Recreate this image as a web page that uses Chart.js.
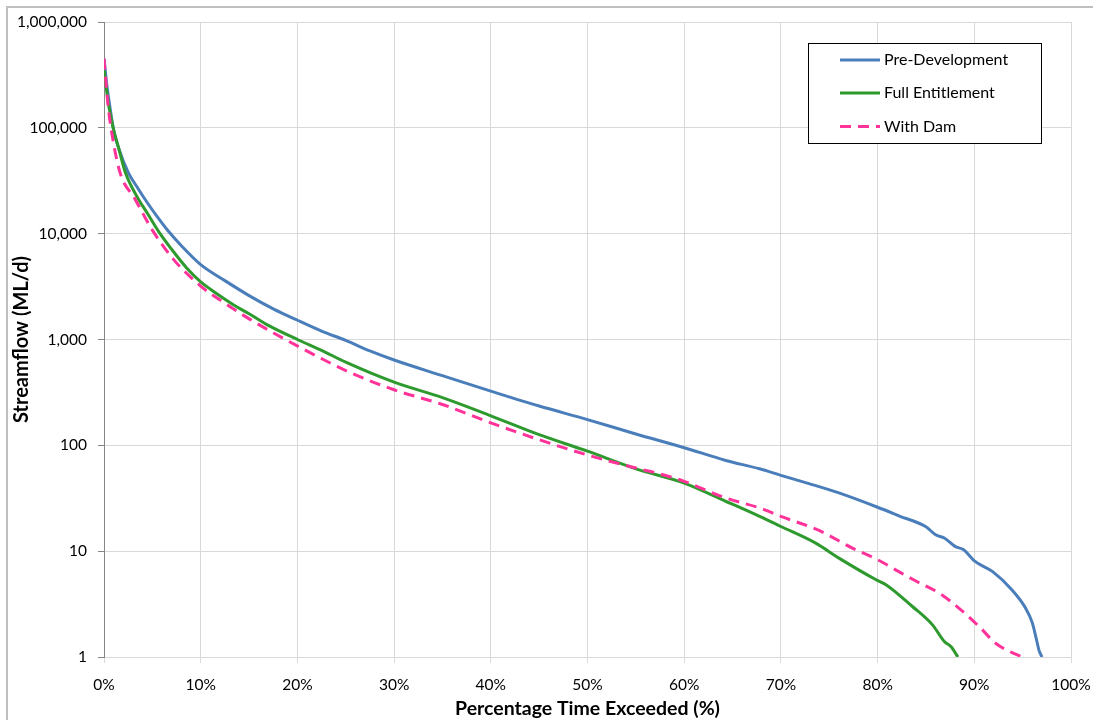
<!DOCTYPE html>
<html>
<head>
<meta charset="utf-8">
<script src="https://cdn.jsdelivr.net/npm/chart.js@4/dist/chart.umd.min.js"></script>
<style>
  html, body { margin: 0; padding: 0; background: #ffffff; }
  #wrap { width: 1093px; height: 720px; position: relative; }
</style>
</head>
<body>
<div id="wrap"><canvas id="c" width="1093" height="720"></canvas></div>
<script>
// ---- Data ----
const seriesLabels = ['Pre-Development', 'Full Entitlement', 'With Dam'];

const preDevX = [0, 0.3, 0.6, 1.0, 1.5, 2.5, 3.5, 4.5, 5.5, 6.6, 8, 10, 12.5, 15, 17.5, 20, 22.5, 25, 27.5, 30, 35, 40, 45, 50, 55, 60, 64.3, 67.8, 70, 72.9, 76, 80, 82.2, 85, 86, 86.9, 88, 88.9, 90, 91.9, 93.9, 95.3, 96.0, 96.4, 96.7, 97];
const preDevY = [450000, 250000, 160000, 95000, 65000, 38000, 26900, 19500, 14500, 10700, 7700, 5100, 3600, 2600, 1950, 1520, 1200, 980, 780, 640, 455, 325, 235, 175, 128, 95, 72, 60, 52, 43.5, 35.5, 26, 21.6, 17, 14.3, 13.3, 11.1, 10.3, 8.1, 6.4, 4.3, 2.9, 2.1, 1.5, 1.15, 1];

const fullEntX = [0, 0.5, 1.0, 1.5, 2.2, 3.55, 4.5, 5.8, 7, 8.5, 10, 11, 13.5, 15, 16.8, 20, 22.5, 25, 30, 35, 40, 45, 50, 55, 60, 64.3, 67.8, 70, 73.6, 76, 79.8, 80.9, 83.6, 85.7, 86.9, 87.6, 88.3];
const fullEntY = [350000, 160000, 95000, 65000, 38000, 21300, 15500, 10000, 7100, 4800, 3500, 2990, 2100, 1750, 1390, 1000, 790, 610, 395, 282, 190, 126, 88, 60, 44, 29.6, 21.3, 17.1, 11.9, 8.6, 5.4, 4.8, 3.0, 2.0, 1.4, 1.25, 1];

const withDamX = [0, 0.4, 0.72, 1.65, 3.2, 4.06, 5.0, 7.16, 10, 12.5, 15.1, 20.2, 25.4, 30, 35, 40, 45, 50, 55, 57.4, 60, 64.3, 67.8, 70, 74, 77.4, 80, 82.2, 84, 86.4, 88.4, 90.5, 92.2, 93.9, 95];
const withDamY = [450000, 170000, 100000, 38000, 21300, 15300, 10800, 5750, 3200, 2200, 1550, 850, 490, 335, 243, 163, 113, 81, 61, 54, 45.7, 31.8, 25.6, 21.3, 15.6, 10.7, 8.3, 6.4, 5.2, 4.0, 2.9, 1.94, 1.35, 1.1, 1];

const yTickValues = [1, 10, 100, 1000, 10000, 100000, 1000000];
const xTickValues = [0, 10, 20, 30, 40, 50, 60, 70, 80, 90, 100];

const xTitle = 'Percentage Time Exceeded (%)';
const yTitle = 'Streamflow (ML/d)';

const colors = ['#4A7EBB', '#2E9A2E', '#FF3399'];

function toPoints(xs, ys) { return xs.map((x, i) => ({ x: x, y: ys[i] })); }

const FONT = 'Lato, "Open Sans", "DejaVu Sans", sans-serif';

// Outer frame (top + left edges visible in reference)
const framePlugin = {
  id: 'frame',
  beforeDraw(chart) {
    const ctx = chart.ctx;
    ctx.save();
    ctx.fillStyle = '#ffffff';
    ctx.fillRect(0, 0, chart.width, chart.height);
    ctx.strokeStyle = '#bfbfbf';
    ctx.lineWidth = 2;
    ctx.beginPath();
    ctx.moveTo(7, chart.height);
    ctx.lineTo(7, 7);
    ctx.lineTo(chart.width, 7);
    ctx.stroke();
    ctx.restore();
  }
};

// Boxed legend inside the plot area
const boxLegendPlugin = {
  id: 'boxLegend',
  afterDraw(chart) {
    const ctx = chart.ctx;
    const bx = 808.5, by = 43.5, bw = 233, bh = 100;
    ctx.save();
    ctx.fillStyle = '#ffffff';
    ctx.fillRect(bx, by, bw, bh);
    ctx.strokeStyle = '#000000';
    ctx.lineWidth = 1;
    ctx.strokeRect(bx, by, bw, bh);
    const rows = [60, 93, 126.5];
    chart.data.datasets.forEach((ds, i) => {
      const y = rows[i];
      ctx.strokeStyle = ds.borderColor;
      ctx.lineWidth = 3;
      ctx.setLineDash(ds.borderDash || []);
      ctx.beginPath();
      ctx.moveTo(840, y);
      ctx.lineTo(880, y);
      ctx.stroke();
      ctx.setLineDash([]);
      ctx.fillStyle = '#000000';
      ctx.font = '16px ' + FONT;
      ctx.textBaseline = 'middle';
      ctx.textAlign = 'left';
      ctx.fillText(ds.label, 884, y);
    });
    ctx.restore();
  }
};

new Chart(document.getElementById('c'), {
  type: 'line',
  data: {
    datasets: [
      { label: seriesLabels[0], data: toPoints(preDevX, preDevY), borderColor: colors[0], borderWidth: 3, pointRadius: 0, cubicInterpolationMode: 'monotone', fill: false, order: 3 },
      { label: seriesLabels[1], data: toPoints(fullEntX, fullEntY), borderColor: colors[1], borderWidth: 3, pointRadius: 0, cubicInterpolationMode: 'monotone', fill: false, order: 2 },
      { label: seriesLabels[2], data: toPoints(withDamX, withDamY), borderColor: colors[2], borderWidth: 3, borderDash: [11, 7], pointRadius: 0, cubicInterpolationMode: 'monotone', fill: false, order: 1 }
    ]
  },
  options: {
    responsive: false,
    animation: false,
    devicePixelRatio: 1,
    layout: { padding: { left: 0, right: 22, top: 22, bottom: 0 } },
    plugins: {
      legend: { display: false },
      tooltip: { enabled: false }
    },
    scales: {
      x: {
        type: 'linear',
        min: 0,
        max: 100,
        afterBuildTicks(axis) { axis.ticks = xTickValues.map(v => ({ value: v })); },
        afterFit(axis) { axis.height = 63; axis.paddingLeft = 0; axis.paddingRight = 0; },
        ticks: {
          callback: (v) => v + '%',
          color: '#000000',
          font: { family: FONT, size: 15.5 },
          padding: 13,
          maxRotation: 0
        },
        grid: { color: '#D9D9D9', lineWidth: 1, tickLength: 6, tickColor: '#D9D9D9' },
        border: { color: '#D9D9D9', width: 1 },
        title: {
          display: true,
          text: xTitle,
          color: '#000000',
          font: { family: FONT, size: 19.5, weight: 'bold' },
          padding: { top: 0, bottom: 0 }
        }
      },
      y: {
        type: 'logarithmic',
        min: 1,
        max: 1000000,
        afterBuildTicks(axis) { axis.ticks = yTickValues.map(v => ({ value: v })); },
        afterFit(axis) { axis.width = 104; },
        ticks: {
          callback: (v) => Number(v).toLocaleString('en-US'),
          color: '#000000',
          font: { family: FONT, size: 15.5 },
          padding: 11
        },
        grid: { color: '#D9D9D9', lineWidth: 1, tickLength: 6, tickColor: '#868686' },
        border: { color: '#868686', width: 1 },
        title: {
          display: true,
          text: yTitle,
          color: '#000000',
          font: { family: FONT, size: 20, weight: 'bold' },
          padding: { top: 10, bottom: 0 }
        }
      }
    }
  },
  plugins: [framePlugin, boxLegendPlugin]
});
</script>
</body>
</html>
